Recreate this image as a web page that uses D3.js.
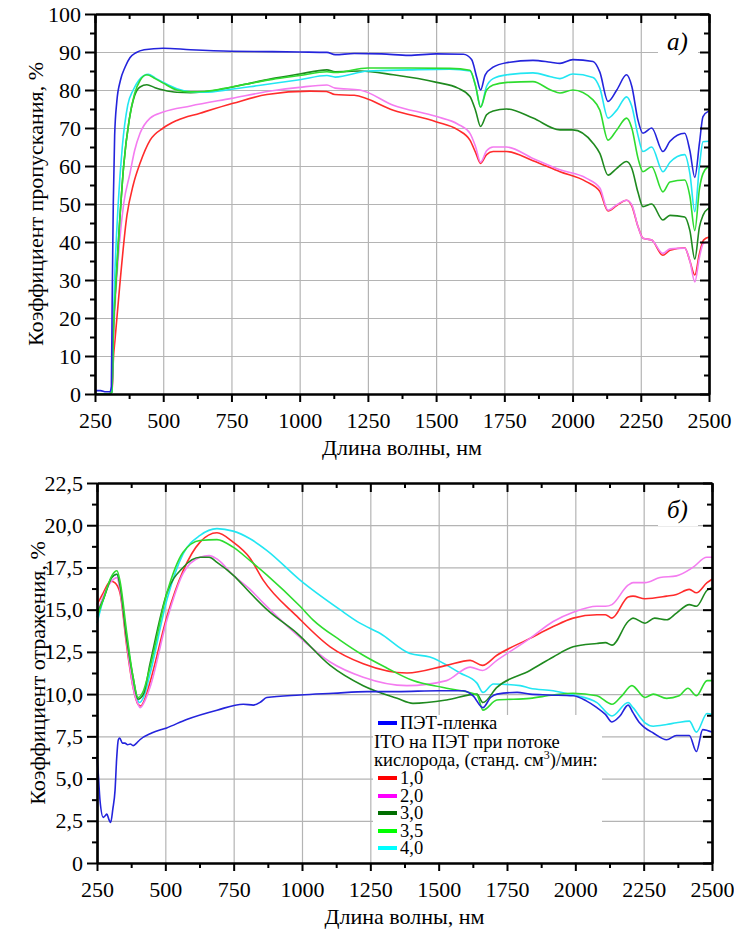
<!DOCTYPE html>
<html><head><meta charset="utf-8">
<script src="https://cdn.jsdelivr.net/npm/d3@7/dist/d3.min.js"></script>
</head>
<body style="margin:0">
<svg id="chart" width="734" height="930" font-family="Liberation Serif"></svg>
<script>
// ---------- DATA ----------
const xTicks = [250, 500, 750, 1000, 1250, 1500, 1750, 2000, 2250, 2500];
const tTicks = [0, 10, 20, 30, 40, 50, 60, 70, 80, 90, 100];
const rTicks = [0, 2.5, 5, 7.5, 10, 12.5, 15, 17.5, 20, 22.5];
const seriesNames = ["ПЭТ-пленка", "1,0", "2,0", "3,0", "3,5", "4,0"];
const lineColors = ["#2424dc", "#ff2b2b", "#f47cf0", "#1f8a1f", "#2fdc2f", "#22e6f2"];
const legendColors = ["#0000ff", "#ff0000", "#ff00ff", "#006e00", "#00ff00", "#00ffff"];
const legendTitle = ["ITO на ПЭТ при потоке", "кислорода, (станд. см", "3", ")/мин:"];
const xTitle = "Длина волны, нм";
const tTitle = "Коэффициент пропускания, %";
const rTitle = "Коэффициент отражения, %";

// Transmittance (panel а), [nm, %]
const tBlue = [[250,0.9],[270,0.9],[290,0.6],[305,0.6],[310,2],[313,25],[317,50],[322,68],[330,77],[343,82.5],[360,86],[378,88.5],[400,89.8],[430,90.6],[500,91],[600,90.6],[750,90.2],[900,90.1],[1000,90],[1100,89.9],[1130,89.3],[1200,89.6],[1300,89.5],[1400,89.1],[1500,89.5],[1600,89.4],[1630,88],[1650,83],[1663,80],[1680,84],[1709,86],[1760,87.2],[1855,87.8],[1920,87.3],[1954,87],[2001,88],[2075,87.5],[2100,84.7],[2130,77],[2162,80],[2198,84],[2217,81],[2240,72],[2258,68.6],[2290,70],[2331,63.8],[2357,66.5],[2411,68.6],[2430,64],[2448,57],[2465,66],[2478,73],[2500,74.5]];
const tRed = [[250,0],[300,0],[312,0.5],[318,10],[323,14],[340,28],[367,47],[390,55],[415,60.7],[452,66.8],[500,70],[550,72],[635,73.9],[756,76.5],[880,78.8],[1037,79.7],[1098,79.6],[1129,78.8],[1200,78.6],[1343,74.7],[1502,71.6],[1580,69.5],[1624,66.8],[1645,63.5],[1663,60.7],[1685,63],[1709,63.8],[1758,63.8],[1855,61.4],[1954,58.5],[2050,55.9],[2100,53.3],[2130,48.2],[2162,49.6],[2198,51],[2217,49.5],[2240,44],[2258,41],[2290,40.5],[2331,36.5],[2357,37.8],[2411,38.5],[2430,35],[2448,31.3],[2465,37],[2480,40.5],[2500,41.3]];
const tPink = [[250,0],[300,0],[312,0.5],[318,15],[325,25],[340,40],[355,50],[378,58],[395,64],[415,68.6],[452,72.6],[500,74.2],[600,75.8],[750,77.8],[900,79.8],[1000,80.7],[1100,81.3],[1130,80.5],[1221,80],[1343,76],[1502,73],[1580,71],[1624,68.6],[1645,65],[1663,61],[1685,64],[1709,65],[1758,65],[1855,62],[1954,59],[2050,56.8],[2100,54.2],[2130,48.4],[2162,49.8],[2198,51],[2217,49.8],[2240,44],[2258,41],[2290,40.5],[2331,37],[2357,38.2],[2411,38.4],[2430,35],[2448,29.5],[2465,36],[2480,39.7],[2500,40]];
const tDarkGreen = [[250,0],[300,0],[312,0.5],[318,18],[323,25],[340,45],[355,60],[375,72],[395,78.5],[415,80.8],[440,81.4],[470,80.6],[500,80],[550,79.4],[600,79.3],[700,80],[800,81.5],[900,83],[1000,84.2],[1100,85.3],[1130,84.8],[1221,85],[1343,84],[1502,82],[1580,80.5],[1624,78.3],[1645,74.5],[1663,70.4],[1685,73.5],[1709,74.5],[1758,75],[1855,72.6],[1954,69.5],[2001,69.5],[2075,66],[2100,63.3],[2130,57.6],[2162,59.4],[2198,61.2],[2217,59.4],[2240,53],[2258,49.3],[2290,50],[2331,45.8],[2357,47],[2411,46.6],[2430,43],[2448,35.5],[2465,44],[2478,47],[2500,49]];
const tLightGreen = [[250,0],[300,0],[312,0.5],[318,18],[323,25],[340,45],[355,60],[375,72],[395,79],[415,82.5],[440,84],[470,83],[500,81.8],[550,80],[600,79.5],[650,79.6],[750,80.8],[900,82.8],[1000,83.8],[1100,84.8],[1130,84.6],[1250,85.8],[1404,85.8],[1550,85.7],[1624,85.2],[1645,81],[1663,75.5],[1685,80],[1709,81.3],[1760,82],[1855,82.2],[1920,80],[1954,79.2],[2001,80],[2075,77.4],[2100,74.7],[2130,66.8],[2162,69.5],[2198,72.6],[2217,70],[2240,62],[2258,58.5],[2290,59.8],[2331,53.2],[2357,55.8],[2411,56.3],[2430,52],[2448,43],[2465,54],[2478,58],[2500,60]];
const tCyan = [[250,0],[300,0],[312,0.5],[316,15],[322,30],[335,50],[350,65],[370,76],[390,80],[410,82.5],[430,83.8],[445,84.1],[470,83.2],[500,82],[550,80.3],[600,79.5],[650,79.4],[750,80.2],[850,81.2],[1000,82.7],[1100,83.8],[1130,83.4],[1250,85],[1400,85.3],[1550,85.5],[1624,85],[1645,81],[1663,75.5],[1685,81],[1709,83],[1760,84],[1855,84.5],[1920,83.5],[1954,83],[2001,84.2],[2075,83.3],[2100,80.5],[2130,72.6],[2162,74.7],[2198,78.2],[2217,75.7],[2240,68],[2258,63.8],[2290,65],[2331,58.5],[2357,61],[2411,63],[2430,58],[2448,48],[2465,60],[2478,66.4],[2500,66.5]];

// Reflectance (panel б), [nm, %]
const rBlue = [[250,6.3],[255,5.2],[261,3.7],[273,2.7],[280,2.8],[286,2.9],[293,2.6],[300,2.4],[308,3.2],[316,4.3],[322,6.2],[328,7.3],[333,7.4],[343,7.1],[352,7.1],[362,7.0],[372,7.05],[382,6.95],[395,7.1],[407,7.3],[450,7.7],[505,8.0],[578,8.5],[689,9.05],[785,9.4],[822,9.35],[850,9.55],[871,9.8],[993,9.95],[1114,10.05],[1238,10.15],[1348,10.15],[1500,10.2],[1589,10.2],[1626,9.9],[1662,9.2],[1690,9.8],[1713,10.0],[1787,10.1],[1834,10.0],[1900,9.95],[1992,9.9],[2040,9.6],[2079,9.2],[2110,8.8],[2134,8.35],[2163,8.7],[2193,9.35],[2211,8.9],[2235,8.3],[2255,8.0],[2285,7.7],[2334,7.3],[2370,7.55],[2417,7.55],[2443,6.6],[2466,7.9],[2500,7.75]];
const rRed = [[250,15.3],[273,16.0],[300,16.7],[315,16.6],[334,16.0],[359,12.8],[382,10.4],[400,9.4],[410,9.3],[425,9.7],[444,10.7],[506,14.6],[565,17.3],[627,19.0],[689,19.55],[748,19.0],[810,18.05],[858,16.75],[982,14.6],[1103,12.8],[1224,11.8],[1384,11.25],[1529,11.7],[1615,12.0],[1660,11.7],[1713,12.3],[1834,13.3],[1919,14.0],[1992,14.5],[2079,14.7],[2110,14.7],[2134,14.5],[2193,15.75],[2211,15.8],[2255,15.65],[2334,15.8],[2370,15.9],[2417,16.2],[2443,16.0],[2482,16.6],[2500,16.8]];
const rPink = [[250,14.7],[273,15.8],[304,16.7],[323,16.9],[334,16.2],[359,13.0],[382,10.4],[400,9.4],[408,9.2],[425,9.6],[444,10.4],[506,14.4],[565,17.15],[627,18.1],[660,18.2],[689,18.0],[748,17.05],[810,16.2],[858,15.4],[982,13.5],[1103,11.9],[1224,11.0],[1384,10.5],[1529,10.8],[1615,11.6],[1660,11.4],[1713,12.0],[1834,13.3],[1919,14.3],[1992,14.85],[2079,15.2],[2110,15.2],[2134,15.3],[2193,16.45],[2211,16.6],[2255,16.6],[2310,16.9],[2370,17.0],[2430,17.5],[2481,18.1],[2500,18.1]];
const rDarkGreen = [[250,14.8],[273,15.6],[304,16.9],[323,17.1],[334,16.45],[359,13.2],[382,11.0],[400,9.7],[420,10.0],[444,11.8],[506,16.0],[565,17.5],[627,18.1],[660,18.1],[689,17.8],[748,17.05],[810,16.0],[872,15.0],[982,13.6],[1103,11.7],[1224,10.5],[1348,9.75],[1406,9.45],[1529,9.65],[1640,10.0],[1662,9.5],[1713,10.4],[1834,11.4],[1919,12.2],[1992,12.8],[2079,13.0],[2110,13.05],[2134,12.9],[2193,14.3],[2211,14.5],[2255,14.2],[2290,14.5],[2334,14.4],[2370,14.8],[2417,15.3],[2443,15.2],[2482,16.15],[2500,16.3]];
const rLightGreen = [[250,14.55],[273,15.6],[304,17.0],[323,17.3],[334,16.7],[359,13.6],[382,11.0],[400,9.8],[420,10.2],[444,11.6],[506,16.0],[565,18.4],[627,19.1],[689,19.15],[748,18.7],[810,17.9],[872,17.05],[993,15.2],[1040,14.4],[1139,13.2],[1224,12.3],[1310,11.55],[1406,10.8],[1529,10.35],[1640,9.95],[1662,9.05],[1713,9.65],[1834,9.75],[1919,9.95],[1992,10.05],[2079,9.9],[2134,9.4],[2170,9.9],[2207,10.5],[2255,9.8],[2285,10.0],[2334,9.75],[2380,9.9],[2412,10.35],[2443,9.9],[2482,10.8],[2500,10.8]];
const rCyan = [[250,14.2],[273,15.6],[304,16.9],[323,17.1],[334,16.2],[359,13.4],[382,10.8],[396,9.8],[405,9.5],[420,9.8],[444,11.2],[506,15.6],[565,18.3],[627,19.4],[689,19.8],[748,19.65],[810,19.2],[872,18.5],[993,16.75],[1139,15.0],[1212,14.2],[1285,13.6],[1395,12.4],[1468,12.2],[1578,11.25],[1640,10.65],[1662,10.1],[1700,10.6],[1798,10.5],[1834,10.35],[1919,10.2],[1992,9.95],[2079,9.5],[2134,8.7],[2193,9.5],[2211,9.2],[2255,8.3],[2285,8.1],[2334,8.2],[2370,8.3],[2417,8.4],[2443,7.75],[2482,8.85],[2500,8.8]];

const tSeries = [tBlue, tRed, tPink, tDarkGreen, tLightGreen, tCyan];
const rSeries = [rBlue, rRed, rPink, rDarkGreen, rLightGreen, rCyan];

// ---------- DRAW ----------
const svg = d3.select("#chart");

function panel(opts) {
  const {left, right, top, bottom, yMax, yTicks, yFmt, series, label, yTitle, drawOrder, labelBox} = opts;
  const x = d3.scaleLinear().domain([250, 2500]).range([left, right]);
  const y = d3.scaleLinear().domain([0, yMax]).range([bottom, top]);
  const g = svg.append("g");
  const minorX = d3.range(375, 2500, 250);
  const yStep = yTicks[1] - yTicks[0];
  const minorY = yTicks.slice(0, -1).map(v => v + yStep / 2);

  // grid
  g.append("g").attr("transform", `translate(0,${bottom})`)
    .call(d3.axisBottom(x).tickValues(xTicks.slice(1, -1)).tickSize(-(bottom - top)).tickFormat(""))
    .call(s => s.select(".domain").remove())
    .selectAll("line").attr("stroke", "#b4b4b4").attr("stroke-width", 1.2);
  g.append("g").attr("transform", `translate(${left},0)`)
    .call(d3.axisLeft(y).tickValues(yTicks.slice(1, -1)).tickSize(-(right - left)).tickFormat(""))
    .call(s => s.select(".domain").remove())
    .selectAll("line").attr("stroke", "#b4b4b4").attr("stroke-width", 1.2);

  // white box behind the panel label
  g.append("rect").attr("x", labelBox[0]).attr("y", labelBox[1]).attr("width", labelBox[2]).attr("height", labelBox[3]).attr("fill", "#fff");

  // curves
  const line = d3.line().x(d => x(d[0])).y(d => y(d[1])).curve(d3.curveMonotoneX);
  drawOrder.forEach(i => {
    g.append("path").datum(series[i]).attr("d", line)
      .attr("fill", "none").attr("stroke", lineColors[i]).attr("stroke-width", 1.6)
      .attr("stroke-linejoin", "round");
  });

  // axes (frame with major/minor ticks)
  const axStyle = s => { s.attr("font-family", "Liberation Serif");
    s.select(".domain").attr("stroke", "#000").attr("stroke-width", 2.2);
    s.selectAll(".tick line").attr("stroke", "#000").attr("stroke-width", 2); };
  g.append("g").attr("transform", `translate(0,${bottom})`)
    .call(d3.axisBottom(x).tickValues(minorX).tickSize(5).tickSizeOuter(0).tickFormat("")).call(axStyle);
  const bx = g.append("g").attr("transform", `translate(0,${bottom})`)
    .call(d3.axisBottom(x).tickValues(xTicks).tickSize(8).tickSizeOuter(0).tickPadding(10).tickFormat(d3.format("d"))).call(axStyle);
  bx.selectAll("text").attr("font-size", 22).attr("fill", "#000");
  g.append("g").attr("transform", `translate(0,${top})`)
    .call(d3.axisBottom(x).tickValues(minorX).tickSize(5).tickSizeOuter(0).tickFormat("")).call(axStyle);
  g.append("g").attr("transform", `translate(0,${top})`)
    .call(d3.axisBottom(x).tickValues(xTicks).tickSize(9).tickSizeOuter(0).tickFormat("")).call(axStyle);
  g.append("g").attr("transform", `translate(${left},0)`)
    .call(d3.axisLeft(y).tickValues(minorY).tickSize(5).tickSizeOuter(0).tickFormat("")).call(axStyle);
  const ly = g.append("g").attr("transform", `translate(${left},0)`)
    .call(d3.axisLeft(y).tickValues(yTicks).tickSize(10).tickSizeOuter(0).tickPadding(4).tickFormat(yFmt)).call(axStyle);
  ly.selectAll("text").attr("font-size", 22).attr("fill", "#000");
  g.append("g").attr("transform", `translate(${right},0)`)
    .call(d3.axisLeft(y).tickValues(minorY).tickSize(5).tickSizeOuter(0).tickFormat("")).call(axStyle);
  g.append("g").attr("transform", `translate(${right},0)`)
    .call(d3.axisLeft(y).tickValues(yTicks).tickSize(9).tickSizeOuter(0).tickFormat("")).call(axStyle);

  // panel label and titles
  g.append("text").attr("x", labelBox[0] + 9).attr("y", labelBox[1] + labelBox[3] - 8)
    .attr("font-size", 25).attr("font-style", "italic").text(label);
  g.append("text").attr("x", (left + right) / 2).attr("y", bottom + 61)
    .attr("text-anchor", "middle").attr("font-size", 22).text(xTitle);
  g.append("text").attr("transform", `translate(${left - 52},${(top + bottom) / 2}) rotate(-90)`)
    .attr("text-anchor", "middle").attr("font-size", 22).text(yTitle);
  return {x, y, g};
}

panel({left: 95, right: 709, top: 14, bottom: 394, yMax: 100, yTicks: tTicks,
  yFmt: d => String(d), series: tSeries, label: "а)", yTitle: tTitle,
  drawOrder: [1, 2, 3, 5, 4, 0], labelBox: [658, 24, 40, 34]});

const bot = panel({left: 97, right: 712, top: 483, bottom: 863, yMax: 22.5, yTicks: rTicks,
  yFmt: d => d === 0 ? "0" : d3.format(".1f")(d).replace(".", ","), series: rSeries, label: "б)", yTitle: rTitle,
  drawOrder: [5, 1, 2, 3, 4, 0], labelBox: [658, 492, 40, 34]});

// legend
const lg = bot.g.append("g");
lg.append("rect").attr("x", 373).attr("y", 715).attr("width", 229).attr("height", 147).attr("fill", "#fff");
const rowY = [723, 778, 796, 813, 831, 848];
seriesNames.forEach((n, i) => {
  lg.append("line").attr("x1", 378).attr("x2", 397).attr("y1", rowY[i]).attr("y2", rowY[i])
    .attr("stroke", legendColors[i]).attr("stroke-width", 4);
  lg.append("text").attr("x", 400).attr("y", rowY[i] + 6).attr("font-size", 18.5).text(n);
});
lg.append("text").attr("x", 374).attr("y", 748).attr("font-size", 18.5).text(legendTitle[0]);
const t2 = lg.append("text").attr("x", 374).attr("y", 766).attr("font-size", 18.5);
t2.append("tspan").text(legendTitle[1]);
t2.append("tspan").attr("font-size", 12).attr("dy", -7).text(legendTitle[2]);
t2.append("tspan").attr("dy", 7).text(legendTitle[3]);
</script>
</body></html>
